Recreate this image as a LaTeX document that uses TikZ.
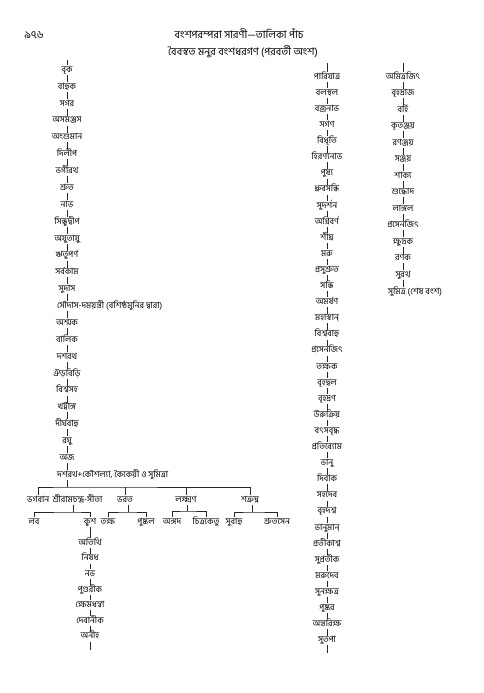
\documentclass[tikz,border=0pt]{standalone}
\usepackage{fontspec}
\setmainfont[Script=Bengali]{Hind Siliguri}
\usetikzlibrary{positioning}
\newcommand{\tie}[4]{%
	\draw [line] (#1.south -| #4) -- (#4);
	\draw [line] (#2.north) |- (#4) -| (#3.north);}
\begin{document}
\begin{tikzpicture}[x=1pt,y=-1pt]
	\tikzstyle{every node}=[font=\fontsize{8.6}{9}\selectfont, inner sep=1pt, text height=6pt, text depth=1.5pt]
	\tikzstyle{head}=[font=\fontsize{10.5}{12}\selectfont]
	\tikzstyle{line}=[line width=0.5pt, black!85]
	\useasboundingbox [fill=white] (0,0) rectangle (483,693);
	% heading
	\node [head] (page) at (34,36) {৯৭৬};
	\node [head] (title) at (239,36) {বংশপরম্পরা সারণী—তালিকা পাঁচ};
	\node [head] (subtitle) at (243,53) {বৈবস্বত মনুর বংশধরগণ (পরবর্তী অংশ)};
	% first column
	\coordinate (ltop) at (67,60);
	\foreach \nm [count=\i from 0] in {বৃক,বাহুক,সগর,অসমঞ্জস,অংশুমান,দিলীপ,ভগীরথ,শ্রুত,নাভ,সিন্ধুদ্বীপ,অযুতায়ু,ঋতুপর্ণ,সর্বকাম,সুদাস}
		\node (l\i) at (67,70+16.875*\i) {\nm};
	\node [anchor=west] (l14) at (56,306) {সৌদাস-দময়ন্তী (বশিষ্ঠমুনির দ্বারা)};
	\foreach \nm [count=\i from 15] in {অশ্মক,বালিক,দশরথ,ঐড়বিড়ি,বিশ্বসহ,খট্বাঙ্গ,দীর্ঘবাহু,রঘু,অজ}
		\node (l\i) at (67,70+16.875*\i) {\nm};
	\node [anchor=west] (l24) at (56,475) {দশরথ+কৌশল্যা, কৈকেয়ী ও সুমিত্রা};
	\draw [line] (ltop) -- (l0);
	\foreach \i in {0,...,23} {
		\pgfmathtruncatemacro{\j}{\i+1}
		\draw [line] (l\i.south -| ltop) -- (l\j.north -| ltop);
	}
	% sons of dasharatha
	\node [anchor=west] (bhagavan) at (26,500) {ভগবান};
	\node [anchor=west, right=1pt of bhagavan] (rama) {শ্রীরামচন্দ্র-সীতা};
	\node (bharata) at (125,500) {ভরত};
	\node (lakshmana) at (186,500) {লক্ষ্মণ};
	\node (shatrughna) at (250,500) {শত্রুঘ্ন};
	\coordinate (j0) at (67,487);
	\draw [line] (l24.south -| j0) -- (j0);
	\draw [line] (bhagavan.north) |- (j0) -| (shatrughna.north);
	\draw [line] (bharata.north) -- (bharata.north |- j0);
	\draw [line] (lakshmana.north) -- (lakshmana.north |- j0);
	% grandsons
	\node (lava) at (34,522) {লব};
	\node (kusha) at (90,522) {কুশ};
	\node (taksha) at (108,522) {তক্ষ};
	\node (pushkala) at (146,522) {পুষ্কল};
	\node (angada) at (172,522) {অঙ্গদ};
	\node (chitraketu) at (206,522) {চিত্রকেতু};
	\node (subahu) at (234,522) {সুবাহু};
	\node (shrutasena) at (277,522) {শ্রুতসেন};
	\coordinate (j1) at (73,512);
	\coordinate (j2) at (128,512);
	\coordinate (j3) at (187,511);
	\coordinate (j4) at (252,512);
	\tie{rama}{lava}{kusha}{j1}
	\tie{bharata}{taksha}{pushkala}{j2}
	\tie{lakshmana}{angada}{chitraketu}{j3}
	\tie{shatrughna}{subahu}{shrutasena}{j4}
	% kusha's line
	\foreach \nm [count=\i from 1] in {অতিথি,নিষধ,নভ,পুণ্ডরীক,ক্ষেমধন্বা,দেবানীক,অনীহ}
		\node (k\i) at (90,543+15.6*\i-15.6) {\nm};
	\coordinate (kend) at (90,650);
	\draw [line] (kusha) -- (k1);
	\foreach \i in {1,...,6} {
		\pgfmathtruncatemacro{\j}{\i+1}
		\draw [line] (k\i) -- (k\j);
	}
	\draw [line] (k7) -- (kend);
	% second column
	\coordinate (rtop) at (327,63);
	\foreach \nm [count=\i from 0] in {পারিযাত্র,বলস্থল,বজ্রনাভ,সগণ,বিধৃতি,হিরণ্যনাভ,পুষ্য,ধ্রুবসন্ধি,সুদর্শন,অগ্নিবর্ণ,শীঘ্র,মরু,প্রসুশ্রুত,সন্ধি,অমর্ষণ,মহাস্বান্,বিশ্ববাহু,প্রসেনজিৎ,তক্ষক,বৃহদ্বল,বৃহদ্রণ,উরুক্রিয়,বৎসবৃদ্ধ,প্রতিব্যোম,ভানু,দিবাক,সহদেব,বৃহদশ্ব,ভানুমান্,প্রতীকাশ্ব,সুপ্রতীক,মরুদেব,সুনক্ষত্র,পুষ্কর,অন্তরিক্ষ,সুতপা}
		\node (r\i) at (327,77+16.1*\i) {\nm};
	\coordinate (rend) at (327,653);
	\draw [line] (rtop) -- (r0);
	\foreach \i in {0,...,34} {
		\pgfmathtruncatemacro{\j}{\i+1}
		\draw [line] (r\i) -- (r\j);
	}
	\draw [line] (r35) -- (rend);
	% third column
	\coordinate (mtop) at (403,63);
	\foreach \nm [count=\i from 0] in {অমিত্রজিৎ,বৃহদ্রাজ,বর্হি,কৃতঞ্জয়,রণঞ্জয়,সঞ্জয়,শাক্য,শুদ্ধোদ,লাঙ্গল,প্রসেনজিৎ,ক্ষুদ্রক,রণক,সুরথ}
		\node (m\i) at (403,77+16.5*\i) {\nm};
	\node [anchor=west] (m13) at (387,292) {সুমিত্র (শেষ বংশ)};
	\draw [line] (mtop) -- (m0);
	\foreach \i in {0,...,12} {
		\pgfmathtruncatemacro{\j}{\i+1}
		\draw [line] (m\i.south -| mtop) -- (m\j.north -| mtop);
	}
\end{tikzpicture}
\end{document}
